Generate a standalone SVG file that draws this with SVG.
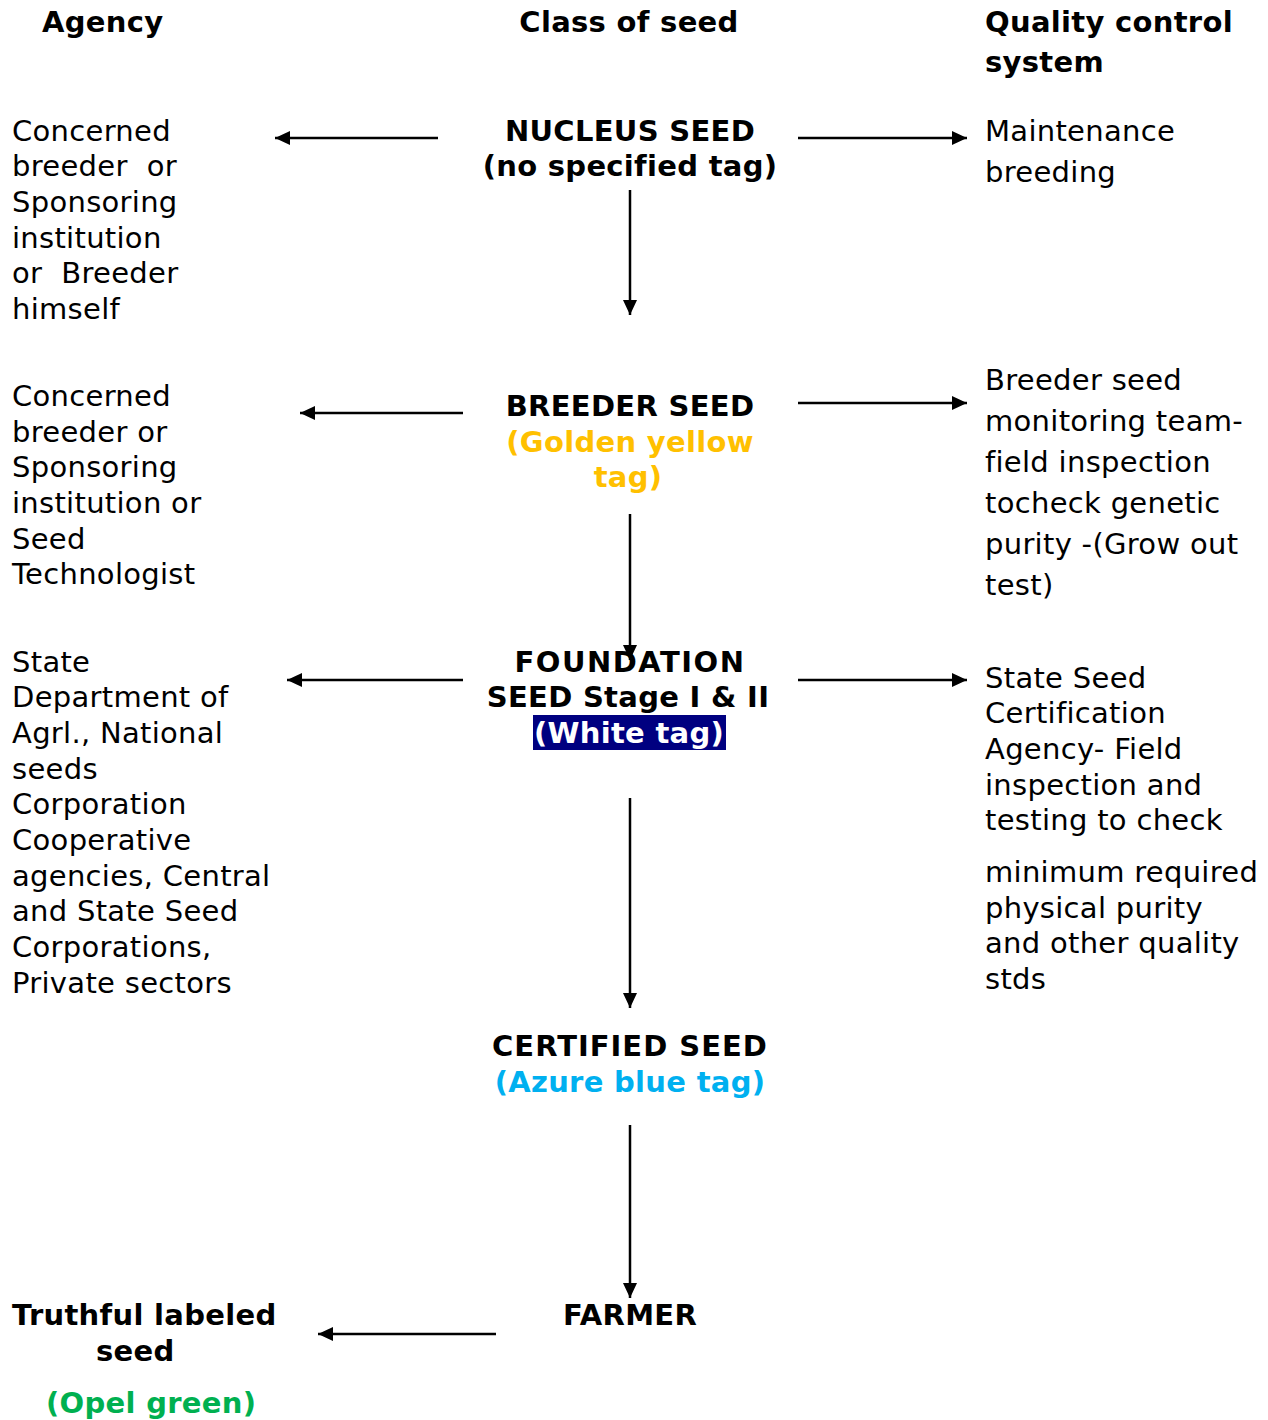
<svg xmlns="http://www.w3.org/2000/svg" width="1268" height="1420" viewBox="0 0 1268 1420">
<style>
text{font-family:"DejaVu Sans","Verdana",sans-serif;font-size:29px;letter-spacing:0.3px;fill:#000;white-space:pre}
.b{font-weight:bold}
.c{text-anchor:middle}
.gold{fill:#FFC000}
.azure{fill:#00B0F0}
.green{fill:#00B050}
.white{fill:#fff}
.ln{stroke:#000;stroke-width:2.5;fill:none}
</style>
<defs>
<marker id="a" viewBox="0 0 15 14" refX="15" refY="7" markerWidth="15" markerHeight="14" markerUnits="userSpaceOnUse" orient="auto">
<path d="M0,0 L15,7 L0,14 z" fill="#000"/>
</marker>
</defs>
<rect width="1268" height="1420" fill="#fff"/>
<g id="headers">
<text class="b" x="42" y="32">Agency</text>
<text class="b c" x="629" y="32">Class of seed</text>
<text class="b" x="985" y="32">Quality control</text>
<text class="b" x="985" y="72">system</text>
</g>
<g id="agency-nucleus" xml:space="preserve">
<text x="12" y="141">Concerned</text>
<text x="12" y="176">breeder  or</text>
<text x="12" y="212">Sponsoring</text>
<text x="12" y="248">institution</text>
<text x="12" y="283">or  Breeder</text>
<text x="12" y="319">himself</text>
</g>
<g id="nucleus-seed">
<text class="b c" x="630" y="141">NUCLEUS SEED</text>
<text class="b c" x="630" y="176">(no specified tag)</text>
</g>
<g id="qc-nucleus">
<text x="985" y="141">Maintenance</text>
<text x="985" y="182">breeding</text>
</g>
<g id="agency-breeder">
<text x="12" y="406">Concerned</text>
<text x="12" y="442">breeder or</text>
<text x="12" y="477">Sponsoring</text>
<text x="12" y="513">institution or</text>
<text x="12" y="549">Seed</text>
<text x="12" y="584">Technologist</text>
</g>
<g id="breeder-seed">
<text class="b c" x="630" y="416">BREEDER SEED</text>
<text class="b c gold" x="630" y="452">(Golden yellow</text>
<text class="b c gold" x="628" y="487">tag)</text>
</g>
<g id="qc-breeder">
<text x="985" y="390">Breeder seed</text>
<text x="985" y="431">monitoring team-</text>
<text x="985" y="472">field inspection</text>
<text x="985" y="513">tocheck genetic</text>
<text x="985" y="554">purity -(Grow out</text>
<text x="985" y="595">test)</text>
</g>
<g id="agency-foundation">
<text x="12" y="672">State</text>
<text x="12" y="707">Department of</text>
<text x="12" y="743">Agrl., National</text>
<text x="12" y="779">seeds</text>
<text x="12" y="814">Corporation</text>
<text x="12" y="850">Cooperative</text>
<text x="12" y="886">agencies, Central</text>
<text x="12" y="921">and State Seed</text>
<text x="12" y="957">Corporations,</text>
<text x="12" y="993">Private sectors</text>
</g>
<g id="foundation-seed">
<text class="b c" x="630" y="672" style="letter-spacing:1.5px">FOUNDATION</text>
<text class="b c" x="628" y="707">SEED Stage I &amp; II</text>
<rect x="533" y="715" width="193" height="35" fill="#000080"/>
<text class="b c white" x="629" y="743">(White tag)</text>
</g>
<g id="qc-foundation">
<text x="985" y="688">State Seed</text>
<text x="985" y="723">Certification</text>
<text x="985" y="759">Agency- Field</text>
<text x="985" y="795">inspection and</text>
<text x="985" y="830">testing to check</text>
<text x="985" y="882">minimum required</text>
<text x="985" y="918">physical purity</text>
<text x="985" y="953">and other quality</text>
<text x="985" y="989">stds</text>
</g>
<g id="certified-seed">
<text class="b c" x="630" y="1056" style="letter-spacing:1px">CERTIFIED SEED</text>
<text class="b c azure" x="630" y="1092">(Azure blue tag)</text>
</g>
<g id="farmer">
<text class="b c" x="630" y="1325">FARMER</text>
</g>
<g id="truthful">
<text class="b" x="12" y="1325">Truthful labeled</text>
<text class="b" x="96" y="1361">seed</text>
<text class="b green" x="46" y="1413">(Opel green)</text>
</g>
<g id="connectors" class="ln">
<line x1="438" y1="138" x2="275" y2="138" marker-end="url(#a)"/>
<line x1="798" y1="138" x2="967" y2="138" marker-end="url(#a)"/>
<line x1="630" y1="190" x2="630" y2="315" marker-end="url(#a)"/>
<line x1="463" y1="413" x2="300" y2="413" marker-end="url(#a)"/>
<line x1="798" y1="403" x2="967" y2="403" marker-end="url(#a)"/>
<line x1="630" y1="514" x2="630" y2="660" marker-end="url(#a)"/>
<line x1="463" y1="680" x2="287" y2="680" marker-end="url(#a)"/>
<line x1="798" y1="680" x2="967" y2="680" marker-end="url(#a)"/>
<line x1="630" y1="798" x2="630" y2="1008" marker-end="url(#a)"/>
<line x1="630" y1="1125" x2="630" y2="1298" marker-end="url(#a)"/>
<line x1="496" y1="1334" x2="318" y2="1334" marker-end="url(#a)"/>
</g>
</svg>
